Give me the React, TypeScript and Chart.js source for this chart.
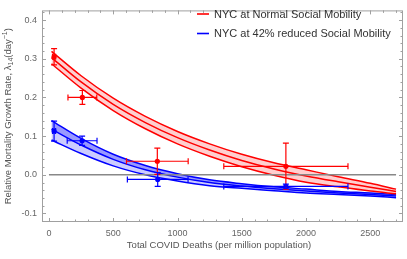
import React, { useEffect, useRef } from 'react';
import { Chart, registerables } from 'chart.js';

Chart.register(...registerables);

// Fitted band curves
const curveX = [20, 250, 500, 750, 1000, 1250, 1500, 1750, 2000, 2250, 2500, 2700];
const redUpper = [0.319, 0.256, 0.198, 0.151, 0.112, 0.080, 0.053, 0.031, 0.013, -0.005, -0.022, -0.037];
const redMid = [0.303, 0.240, 0.182, 0.135, 0.096, 0.064, 0.037, 0.015, -0.003, -0.018, -0.032, -0.043];
const redLower = [0.287, 0.224, 0.166, 0.119, 0.080, 0.048, 0.021, -0.001, -0.019, -0.031, -0.042, -0.049];
const blueUpper = [0.140, 0.094, 0.053, 0.024, 0.003, -0.013, -0.023, -0.031, -0.037, -0.043, -0.047, -0.051];
const blueMid = [0.118, 0.077, 0.040, 0.013, -0.006, -0.020, -0.029, -0.036, -0.042, -0.047, -0.051, -0.055];
const blueLower = [0.090, 0.055, 0.023, 0.000, -0.016, -0.028, -0.035, -0.041, -0.047, -0.051, -0.055, -0.059];

// Data points with error bars
const redPtsX = [40, 260, 843, 1843];
const redPtsY = [0.305, 0.200, 0.035, 0.022];
const redErrX = [12, 112, 240, 483];
const redErrY = [0.021, 0.018, 0.034, 0.060];
const bluePtsX = [40, 258, 846, 1843];
const bluePtsY = [0.113, 0.088, -0.012, -0.030];
const blueErrX = [12, 116, 236, 483];
const blueErrY = [0.026, 0.012, 0.018, 0.006];

const xTicks = [0, 500, 1000, 1500, 2000, 2500];
const yTicks = [-0.1, 0.0, 0.1, 0.2, 0.3, 0.4];

const legendLabels = ['NYC at Normal Social Mobility', 'NYC at 42% reduced Social Mobility'];
const xTitle = 'Total COVID Deaths (per million population)';
const yTitleMain = 'Relative Mortality Growth Rate, λ';
const yTitleSub = '14';
const yTitleMid = '(day';
const yTitleSup = '−1';
const yTitleEnd = ')';

const RED = '#ff0000';
const BLUE = '#0000ff';
const FONT = '"Liberation Sans", Arial, sans-serif';

const toPts = (xs: number[], ys: number[]) => xs.map((x, i) => ({ x, y: ys[i] }));

const decorPlugin = {
  id: 'decor',
  afterDatasetsDraw(chart: any) {
    const { ctx, scales } = chart;
    const x = scales.x, y = scales.y;
    const drawErr = (xs: number[], ys: number[], ex: number[], ey: number[], color: string) => {
      ctx.save();
      ctx.strokeStyle = color;
      ctx.lineWidth = 1.2;
      xs.forEach((xv, i) => {
        const px = x.getPixelForValue(xv);
        const py = y.getPixelForValue(ys[i]);
        const x0 = x.getPixelForValue(xv - ex[i]);
        const x1 = x.getPixelForValue(xv + ex[i]);
        const y0 = y.getPixelForValue(ys[i] + ey[i]);
        const y1 = y.getPixelForValue(ys[i] - ey[i]);
        ctx.beginPath();
        ctx.moveTo(x0, py); ctx.lineTo(x1, py);
        ctx.moveTo(x0, py - 3); ctx.lineTo(x0, py + 3);
        ctx.moveTo(x1, py - 3); ctx.lineTo(x1, py + 3);
        ctx.moveTo(px, y0); ctx.lineTo(px, y1);
        ctx.moveTo(px - 3, y0); ctx.lineTo(px + 3, y0);
        ctx.moveTo(px - 3, y1); ctx.lineTo(px + 3, y1);
        ctx.stroke();
      });
      ctx.restore();
    };
    drawErr(redPtsX, redPtsY, redErrX, redErrY, RED);
    drawErr(bluePtsX, bluePtsY, blueErrX, blueErrY, BLUE);
  },
  afterDraw(chart: any) {
    const { ctx, chartArea: a, scales } = chart;
    const x = scales.x, y = scales.y;
    ctx.save();
    // frame
    ctx.strokeStyle = '#a0a0a0';
    ctx.lineWidth = 1;
    ctx.strokeRect(a.left + 0.5, a.top + 0.5, a.right - a.left - 1, a.bottom - a.top - 1);
    ctx.beginPath();
    for (let i = 0; i <= 27; i++) {
      const v = i * 100;
      const len = i % 5 === 0 ? 4 : 2.5;
      const px = Math.round(x.getPixelForValue(v)) + 0.5;
      ctx.moveTo(px, a.bottom); ctx.lineTo(px, a.bottom - len);
      ctx.moveTo(px, a.top); ctx.lineTo(px, a.top + len);
    }
    for (let i = -6; i <= 21; i++) {
      const v = i / 50;
      const len = i % 5 === 0 ? 4 : 2.5;
      const py = Math.round(y.getPixelForValue(v)) + 0.5;
      ctx.moveTo(a.left, py); ctx.lineTo(a.left + len, py);
      ctx.moveTo(a.right, py); ctx.lineTo(a.right - len, py);
    }
    ctx.stroke();

    // x title
    ctx.fillStyle = '#555';
    ctx.font = `9.5px ${FONT}`;
    ctx.textAlign = 'center';
    ctx.textBaseline = 'middle';
    ctx.fillText(xTitle, 219, 245);

    // y title with sub/superscript
    const big = `9.5px ${FONT}`;
    const small = `7px ${FONT}`;
    const parts: [string, string, number][] = [
      [yTitleMain, big, 0],
      [yTitleSub, small, 2.5],
      [yTitleMid, big, 0],
      [yTitleSup, small, -3.5],
      [yTitleEnd, big, 0],
    ];
    let total = 0;
    parts.forEach(([t, f]) => { ctx.font = f; total += ctx.measureText(t).width; });
    ctx.translate(8.5, (a.top + a.bottom) / 2);
    ctx.rotate(-Math.PI / 2);
    ctx.textAlign = 'left';
    let cx = -total / 2;
    parts.forEach(([t, f, dy]) => {
      ctx.font = f;
      ctx.fillText(t, cx, dy);
      cx += ctx.measureText(t).width;
    });
    ctx.setTransform(1, 0, 0, 1, 0, 0);

    // legend
    ctx.font = `11px ${FONT}`;
    ctx.textAlign = 'left';
    ctx.textBaseline = 'middle';
    const rows: [string, string, number][] = [
      [legendLabels[0], RED, 14],
      [legendLabels[1], BLUE, 33.5],
    ];
    rows.forEach(([t, c, yy]) => {
      ctx.strokeStyle = c;
      ctx.lineWidth = 1.6;
      ctx.beginPath();
      ctx.moveTo(197, yy); ctx.lineTo(209, yy);
      ctx.stroke();
      ctx.fillStyle = '#333';
      ctx.fillText(t, 214, yy + 0.5);
    });
    ctx.restore();
  },
};

export default function App() {
  const ref = useRef<HTMLCanvasElement>(null);
  useEffect(() => {
    document.body.style.margin = '0';
    const curve = (data: number[], extra: any = {}) => ({
      data: toPts(curveX, data),
      showLine: true,
      borderWidth: 1.5,
      pointRadius: 0,
      cubicInterpolationMode: 'monotone',
      fill: false,
      ...extra,
    });
    const chart = new Chart(ref.current as HTMLCanvasElement, {
      type: 'scatter',
      data: {
        datasets: [
          { data: toPts(redPtsX, redPtsY), pointRadius: 2.6, backgroundColor: RED, borderWidth: 0 },
          { data: toPts(bluePtsX, bluePtsY), pointRadius: 2.6, backgroundColor: BLUE, borderWidth: 0 },
          { data: [{ x: 0, y: 0 }, { x: 2700, y: 0 }], showLine: true, borderColor: '#888', borderWidth: 1.6, pointRadius: 0 },
          curve(redUpper, { borderColor: RED, fill: { target: 5 }, backgroundColor: 'rgba(255,0,0,0.19)' }),
          curve(redMid, { borderColor: RED }),
          curve(redLower, { borderColor: RED }),
          curve(blueUpper, { borderColor: BLUE, fill: { target: 8 }, backgroundColor: 'rgba(0,0,255,0.2)' }),
          curve(blueMid, { borderColor: BLUE, fill: { target: 6 }, backgroundColor: 'rgba(0,0,255,0.25)' }),
          curve(blueLower, { borderColor: BLUE }),
        ] as any,
      },
      options: {
        responsive: false,
        animation: false,
        devicePixelRatio: 1,
        events: [],
        layout: { padding: { top: 1, right: 4, left: 0, bottom: 0 } },
        plugins: {
          legend: { display: false },
          tooltip: { enabled: false },
          filler: { drawTime: 'beforeDatasetsDraw' } as any,
        },
        scales: {
          x: {
            type: 'linear',
            min: -54,
            max: 2754,
            grid: { display: false, drawTicks: false },
            border: { display: false },
            ticks: {
              font: { size: 9, family: FONT },
              color: '#666',
              padding: 6,
              maxRotation: 0,
              autoSkip: false,
              callback: (v: any) => String(v),
            },
            afterBuildTicks: (s: any) => { s.ticks = xTicks.map((v) => ({ value: v })); },
            afterFit: (s: any) => { s.height = 37; },
          },
          y: {
            type: 'linear',
            min: -0.122,
            max: 0.425,
            grid: { display: false, drawTicks: false },
            border: { display: false },
            ticks: {
              font: { size: 9, family: FONT },
              color: '#666',
              padding: 5,
              autoSkip: false,
              callback: (v: any) => Number(v).toFixed(1),
            },
            afterBuildTicks: (s: any) => { s.ticks = yTicks.map((v) => ({ value: v })); },
            afterFit: (s: any) => { s.width = 42; },
          },
        },
      },
      plugins: [decorPlugin],
    });
    return () => chart.destroy();
  }, []);
  return (
    <div style={{ width: 407, height: 259 }}>
      <canvas ref={ref} width={407} height={259} style={{ display: 'block' }} />
    </div>
  );
}
